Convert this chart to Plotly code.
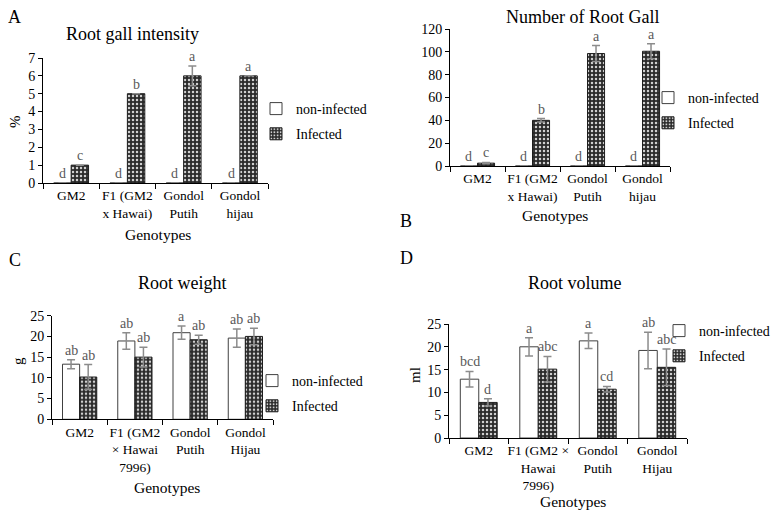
import plotly.graph_objects as go

# page is rendered inside an 8px body margin, so the figure is 8px smaller
PAGE_OFF = 8
WF, HF = 781 - PAGE_OFF, 512 - PAGE_OFF
FONT = "Times New Roman, Liberation Serif, Times, serif"

# ---------------- data ----------------
cats_ab = ["GM2", "F1 (GM2<br>x Hawai)", "Gondol<br>Putih", "Gondol<br>hijau"]
cats_c = ["GM2", "F1 (GM2<br>× Hawai<br>7996)", "Gondol<br>Putih", "Gondol<br>Hijau"]
cats_d = ["GM2", "F1 (GM2 ×<br>Hawai<br>7996)", "Gondol<br>Putih", "Gondol<br>Hijau"]

gall_int_non = [0, 0, 0, 0]
gall_int_inf = [1, 5, 6, 6]
gall_int_non_err = [0, 0, 0, 0]
gall_int_inf_err = [0, 0, 0.55, 0]
gall_int_non_let = ["d", "d", "d", "d"]
gall_int_inf_let = ["c", "b", "a", "a"]

gall_num_non = [0, 0, 0, 0]
gall_num_inf = [2.5, 40, 98.5, 100.5]
gall_num_non_err = [0, 0, 0, 0]
gall_num_inf_err = [0.6, 1.5, 7, 6.5]
gall_num_non_let = ["d", "d", "d", "d"]
gall_num_inf_let = ["c", "b", "a", "a"]

weight_non = [13.3, 18.9, 20.9, 19.6]
weight_inf = [10.2, 15.0, 19.2, 20.0]
weight_non_err = [1.1, 2.0, 1.6, 2.2]
weight_inf_err = [3.0, 2.4, 1.1, 2.0]
weight_non_let = ["ab", "ab", "a", "ab"]
weight_inf_let = ["ab", "ab", "ab", "ab"]

vol_non = [12.9, 20.0, 21.3, 19.2]
vol_inf = [7.8, 15.1, 10.7, 15.5]
vol_non_err = [1.7, 2.0, 1.7, 4.0]
vol_inf_err = [0.8, 2.8, 0.6, 4.0]
vol_non_let = ["bcd", "a", "a", "ab"]
vol_inf_let = ["d", "abc", "cd", "abc"]

series_names = ["non-infected", "Infected"]

# ---------------- layout helpers (page pixel coords -> paper) ----------------
def px(x):
    return (x - PAGE_OFF) / WF

def py(y):
    return 1 - (y - PAGE_OFF) / HF

def xd(a, b):
    return [px(a), px(b)]

def yd(top, bottom):
    return [py(bottom), py(top)]

panels = [
    dict(key="1", cats=cats_ab, non=gall_int_non, inf=gall_int_inf,
         ne=gall_int_non_err, ie=gall_int_inf_err,
         nl=gall_int_non_let, il=gall_int_inf_let,
         xdom=xd(43, 268), ydom=yd(58, 183), yr=[0, 7], dt=1, ytitle="%",
         title="Root gall intensity", tpos=(132, 34),
         gpos=(158, 235), leg=(256, 93), letter=("A", 15, 17), ylabpos=(15, 121)),
    dict(key="2", cats=cats_ab, non=gall_num_non, inf=gall_num_inf,
         ne=gall_num_non_err, ie=gall_num_inf_err,
         nl=gall_num_non_let, il=gall_num_inf_let,
         xdom=xd(450, 670), ydom=yd(29, 166), yr=[0, 120], dt=20, ytitle="",
         title="Number of Root Gall", tpos=(582, 17),
         gpos=(555, 215), leg=(648, 82), letter=("B", 406, 221), ylabpos=None),
    dict(key="3", cats=cats_c, non=weight_non, inf=weight_inf,
         ne=weight_non_err, ie=weight_inf_err,
         nl=weight_non_let, il=weight_inf_let,
         xdom=xd(52, 273), ydom=yd(315.7, 419.3), yr=[0, 25], dt=5, ytitle="g",
         title="Root weight", tpos=(182, 283),
         gpos=(167, 487), leg=(252, 365), letter=("C", 15, 260), ylabpos=(18, 361)),
    dict(key="4", cats=cats_d, non=vol_non, inf=vol_inf,
         ne=vol_non_err, ie=vol_inf_err,
         nl=vol_non_let, il=vol_inf_let,
         xdom=xd(449, 687), ydom=yd(324, 438), yr=[0, 25], dt=5, ytitle="ml",
         title="Root volume", tpos=(575, 283),
         gpos=(573, 501), leg=(659, 315), letter=("D", 406, 258), ylabpos=(415, 375)),
]

fig = go.Figure()
layout = dict(
    template="none",
    width=WF, height=HF, margin=dict(l=0, r=0, t=0, b=0, autoexpand=False),
    paper_bgcolor="white", plot_bgcolor="white",
    barmode="group", bargap=0.38, bargroupgap=0,
    font=dict(family=FONT, color="black"),
    annotations=[],
)

BARGAP = 0.38
off = (1 - BARGAP) / 4

def errs(e):
    return [v if v > 0 else None for v in e]

for p in panels:
    k = p["key"]
    xa = "x" if k == "1" else "x" + k
    ya = "y" if k == "1" else "y" + k
    lg = "legend" if k == "1" else "legend" + k
    fig.add_trace(go.Bar(
        x=p["cats"], y=p["non"], name=series_names[0], xaxis=xa, yaxis=ya, legend=lg,
        legendgroup="n" + k,
        marker=dict(color="white", line=dict(color="#404040", width=1)),
        error_y=dict(type="data", array=errs(p["ne"]), color="#8c8c8c", thickness=1.5, width=4),
    ))
    fig.add_trace(go.Bar(
        x=p["cats"], y=p["inf"], name=series_names[1], xaxis=xa, yaxis=ya, legend=lg,
        legendgroup="i" + k,
        marker=dict(color="#1e1e1e", line=dict(color="#1e1e1e", width=1),
                    pattern=dict(shape=".", fgcolor="#d0d0d0", bgcolor="#2a2a2a",
                                 size=4, solidity=0.3, fillmode="replace")),
        error_y=dict(type="data", array=errs(p["ie"]), color="#8c8c8c", thickness=1.5, width=4),
    ))
    xkey = "xaxis" if k == "1" else "xaxis" + k
    ykey = "yaxis" if k == "1" else "yaxis" + k
    layout[xkey] = dict(domain=p["xdom"], anchor=ya, type="category", automargin=False,
                        showline=True, linecolor="black", linewidth=1, tickangle=0,
                        ticks="outside", ticklen=5, tickcolor="black", tickson="boundaries",
                        tickfont=dict(family=FONT, size=13.5, color="black"),
                        showgrid=False, zeroline=False, fixedrange=True)
    layout[ykey] = dict(domain=p["ydom"], anchor=xa, range=p["yr"], dtick=p["dt"],
                        automargin=False, tickmode="linear", tick0=0,
                        showline=True, linecolor="black", linewidth=1,
                        ticks="outside", ticklen=4, tickcolor="black",
                        tickfont=dict(family=FONT, size=14, color="black"),
                        showgrid=False, zeroline=False, fixedrange=True)
    lx, ly = p["leg"]
    layout[lg] = dict(x=px(lx), y=py(ly), xanchor="left", yanchor="top",
                      font=dict(family=FONT, size=14, color="black"),
                      bgcolor="rgba(0,0,0,0)", itemwidth=30, traceorder="grouped",
                      tracegroupgap=4)
    ann = layout["annotations"]

    def pa(text, x, y, size, angle=0):
        ann.append(dict(text=text, x=px(x), y=py(y), xref="paper", yref="paper",
                        xanchor="center", yanchor="middle", showarrow=False, textangle=angle,
                        font=dict(family=FONT, size=size, color="black")))

    pa(p["title"], p["tpos"][0], p["tpos"][1], 18)
    pa("Genotypes", p["gpos"][0], p["gpos"][1], 15.5)
    lt, ltx, lty = p["letter"]
    pa(lt, ltx, lty, 18)
    if p["ylabpos"]:
        pa(p["ytitle"], p["ylabpos"][0], p["ylabpos"][1], 15, -90)
    for i in range(4):
        ann.append(dict(text=p["nl"][i], x=i - off, y=p["non"][i] + p["ne"][i],
                        xref=xa, yref=ya, xanchor="center", yanchor="bottom",
                        showarrow=False, yshift=0,
                        font=dict(family=FONT, size=14, color="#595959")))
        ann.append(dict(text=p["il"][i], x=i + off, y=p["inf"][i] + p["ie"][i],
                        xref=xa, yref=ya, xanchor="center", yanchor="bottom",
                        showarrow=False, yshift=0,
                        font=dict(family=FONT, size=14, color="#595959")))

fig.update_layout(**layout)
fig.write_html("out.html")
